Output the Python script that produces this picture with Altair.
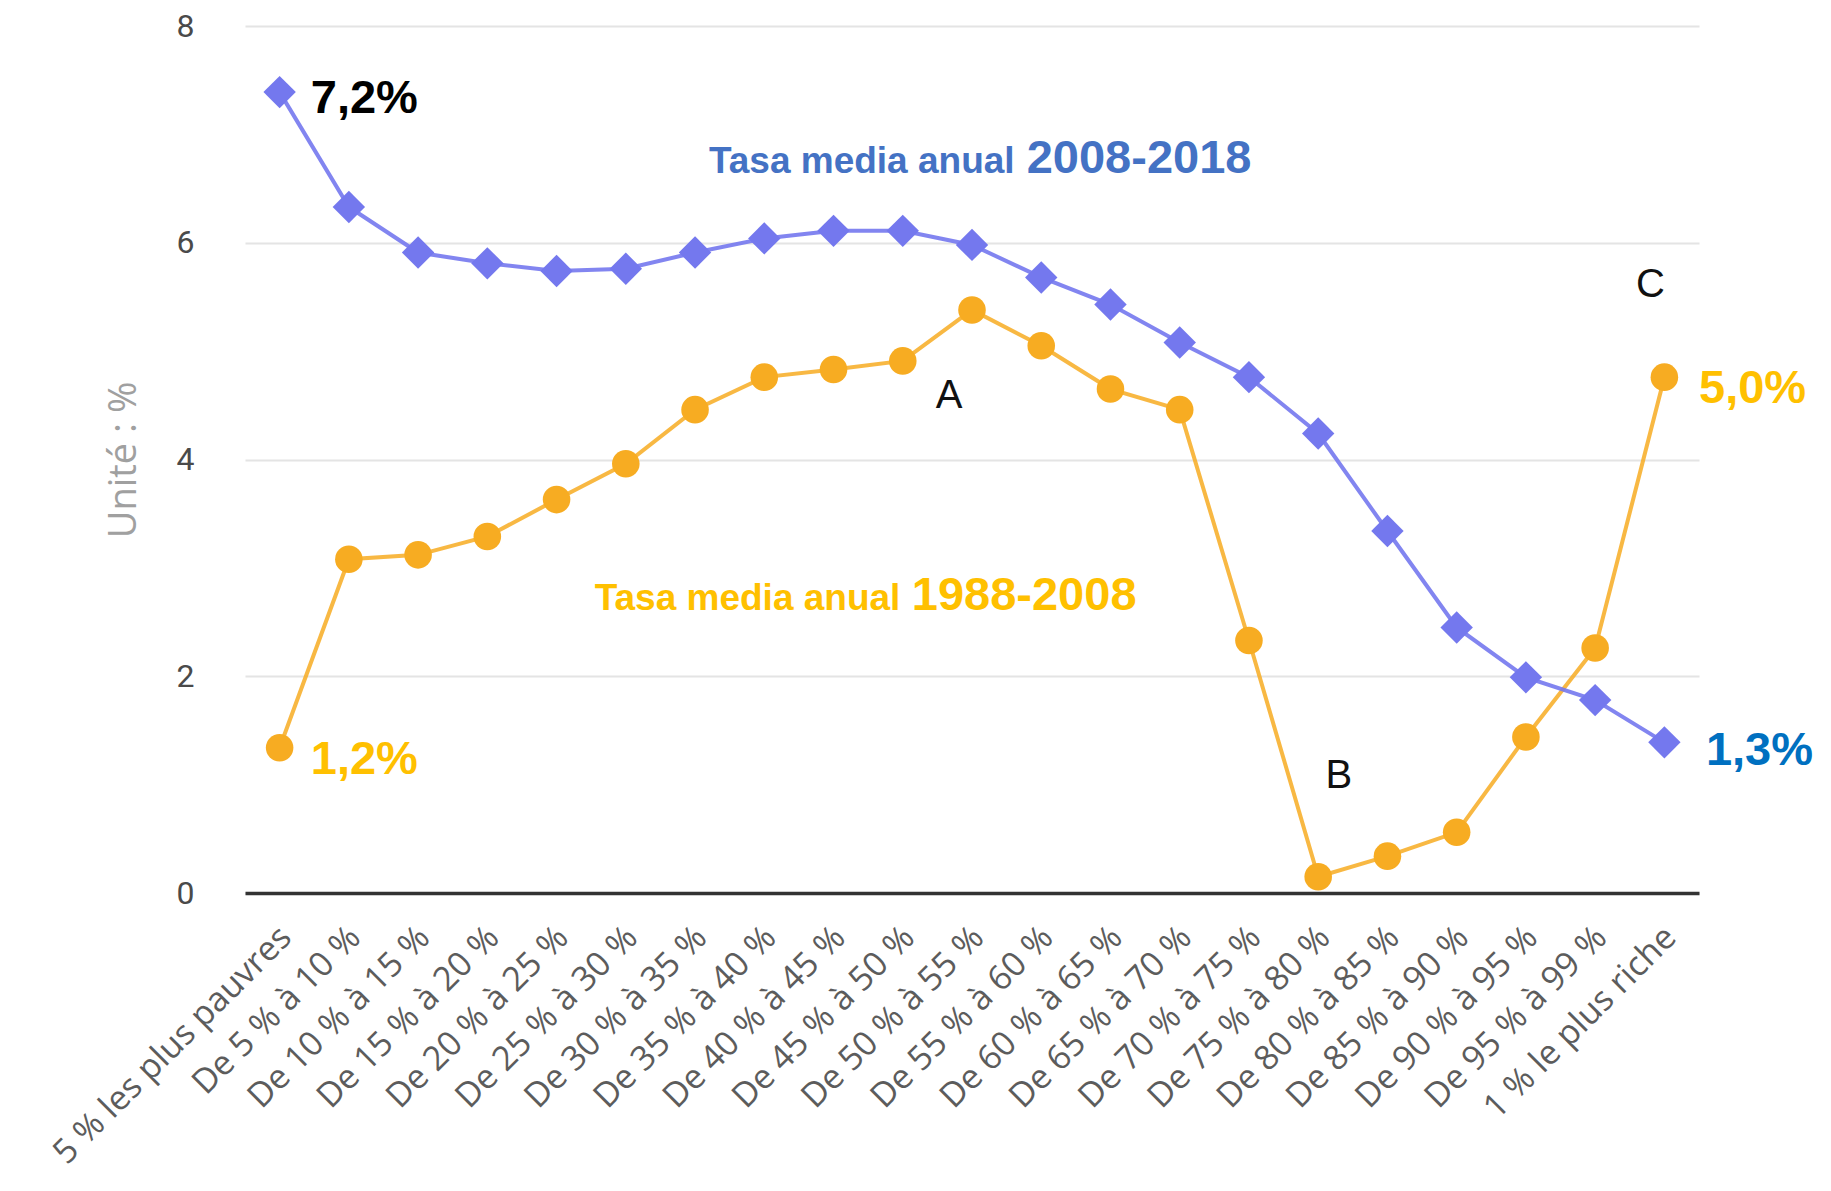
import json
import altair as alt
import pandas as pd

categories = [
    "5 % les plus pauvres", "De 5 % à 10 %", "De 10 % à 15 %", "De 15 % à 20 %",
    "De 20 % à 25 %", "De 25 % à 30 %", "De 30 % à 35 %", "De 35 % à 40 %",
    "De 40 % à 45 %", "De 45 % à 50 %", "De 50 % à 55 %", "De 55 % à 60 %",
    "De 60 % à 65 %", "De 65 % à 70 %", "De 70 % à 75 %", "De 75 % à 80 %",
    "De 80 % à 85 %", "De 85 % à 90 %", "De 90 % à 95 %", "De 95 % à 99 %",
    "1 % le plus riche",
]
rate_2008_2018 = [7.39, 6.33, 5.91, 5.81, 5.74, 5.76, 5.91, 6.04, 6.11, 6.11, 5.98,
                  5.68, 5.43, 5.08, 4.76, 4.24, 3.34, 2.45, 1.99, 1.78, 1.39]
rate_1988_2008 = [1.34, 3.08, 3.12, 3.29, 3.63, 3.96, 4.46, 4.76, 4.83, 4.91, 5.38,
                  5.05, 4.65, 4.46, 2.33, 0.15, 0.34, 0.56, 1.44, 2.26, 4.76]
y_ticks = [0, 2, 4, 6, 8]
y_title = "Unité : %"

BLUE_LINE = "#7478EE"
ORANGE_LINE = "#F7AC22"

idx = list(range(len(categories)))
df_blue = pd.DataFrame({"idx": idx, "value": rate_2008_2018, "cat": categories})
df_orange = pd.DataFrame({"idx": idx, "value": rate_1988_2008, "cat": categories})

label_expr = "[" + ",".join(json.dumps(c, ensure_ascii=False) for c in categories) + "][datum.value]"

W, H = 1454, 867

x_enc = alt.X(
    "idx:Q",
    scale=alt.Scale(domain=[-0.5, len(categories) - 0.5], nice=False, zero=False),
    axis=alt.Axis(
        values=idx, labelExpr=label_expr, title=None, grid=False, ticks=False,
        domainColor="#333333", domainWidth=3.5,
        labelAngle=315, labelAlign="right", labelBaseline="top",
        labelOffset=-6, labelPadding=27, labelFontSize=34, labelFont="Open Sans",
        labelColor="#5c5c5c", labelOverlap=False, labelFlush=False, labelLimit=0,
    ),
)
y_enc = alt.Y(
    "value:Q",
    scale=alt.Scale(domain=[0, 8], nice=False, zero=True),
    axis=alt.Axis(
        values=y_ticks, title=y_title, grid=True, gridColor="#e4e4e4", gridWidth=2,
        domain=False, ticks=False, labelPadding=51, labelFontSize=32,
        labelFont="Roboto", labelColor="#4a4a4a",
        titleColor="#a0a0a0", titleFont="Open Sans", titleFontSize=38,
        titleFontWeight="normal", titleAngle=270, titleX=-121, titleY=H / 2,
        titleAlign="center", titleBaseline="middle",
    ),
)

orange_line = alt.Chart(df_orange).mark_line(color=ORANGE_LINE, strokeWidth=4, opacity=0.85).encode(x=x_enc, y=y_enc)
orange_pts = alt.Chart(df_orange).mark_point(shape="circle", filled=True, size=760, color=ORANGE_LINE, opacity=1).encode(x=x_enc, y=y_enc)
blue_line = alt.Chart(df_blue).mark_line(color=BLUE_LINE, strokeWidth=4, opacity=0.9).encode(x=x_enc, y=y_enc)
blue_pts = alt.Chart(df_blue).mark_point(shape="diamond", filled=True, size=1050, color=BLUE_LINE, opacity=1).encode(x=x_enc, y=y_enc)


def note(text, x, y, size, color, weight="bold", align="left", baseline="middle", font="Liberation Sans"):
    d = pd.DataFrame({"idx": [x], "value": [y], "t": [text]})
    return alt.Chart(d).mark_text(
        fontSize=size, color=color, fontWeight=weight, align=align,
        baseline=baseline, font=font,
    ).encode(x=x_enc, y=y_enc, text="t:N")


notes = [
    note("7,2%", 0.45, 7.33, 47, "#000000"),
    note("1,2%", 0.45, 1.23, 47, "#FFC000"),
    note("5,0%", 20.5, 4.65, 47, "#FFC000"),
    note("1,3%", 20.6, 1.31, 47, "#0070C0"),
    note("A", 9.67, 4.59, 40, "#111111", weight="normal", align="center"),
    note("B", 15.3, 1.08, 40, "#111111", weight="normal", align="center"),
    note("C", 19.8, 5.61, 40, "#111111", weight="normal", align="center"),
    note("Tasa media anual", 6.2, 6.64, 37, "#4472C4", baseline="alphabetic"),
    note("2008-2018", 10.79, 6.64, 47, "#4472C4", baseline="alphabetic"),
    note("Tasa media anual", 4.55, 2.61, 37, "#FFC000", baseline="alphabetic"),
    note("1988-2008", 9.13, 2.61, 47, "#FFC000", baseline="alphabetic"),
]

chart = alt.layer(orange_line, blue_line, orange_pts, blue_pts, *notes).properties(
    width=W, height=H,
    padding={"left": 237, "top": 18, "right": 122, "bottom": 288},
    autosize=alt.AutoSizeParams(type="none"),
    background="white",
).configure_view(stroke=None)

chart.save("out.html", embed_options={"renderer": "svg", "actions": False})
